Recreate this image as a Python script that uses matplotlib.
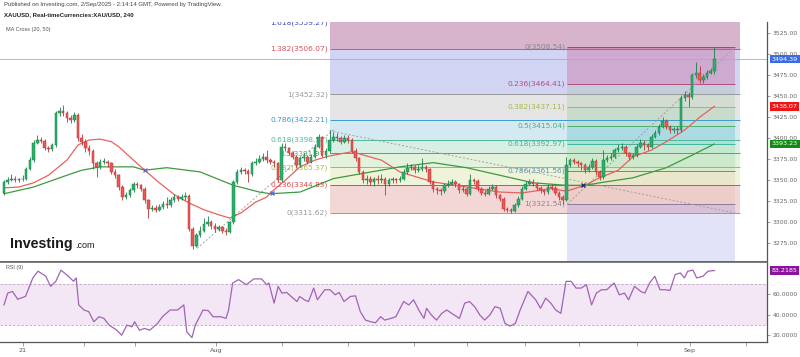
import matplotlib
matplotlib.use("Agg")
import matplotlib.pyplot as plt
import matplotlib.transforms as mtransforms
import numpy as np

# ---- candles (4H XAU/USD) ----
first_open = 3335
closes = [3348, 3350, 3352, 3350, 3351, 3352, 3364, 3374, 3395, 3398,
          3397, 3388, 3387, 3392, 3430, 3432, 3430, 3424, 3422, 3428,
          3400, 3396, 3388, 3385, 3370, 3366, 3372, 3372, 3370, 3360,
          3356, 3342, 3330, 3332, 3338, 3345, 3344, 3340, 3326, 3316,
          3317, 3315, 3318, 3322, 3320, 3326, 3330, 3328, 3330, 3331,
          3292, 3272, 3285, 3290, 3298, 3300, 3296, 3292, 3294, 3290,
          3289, 3300, 3348, 3360, 3362, 3361, 3357, 3370, 3372, 3375,
          3378, 3374, 3372, 3370, 3350, 3390, 3388, 3383, 3378, 3368,
          3376, 3378, 3372, 3378, 3390, 3401, 3380, 3385, 3398, 3402,
          3400, 3396, 3400, 3398, 3385, 3376, 3360, 3350, 3352, 3348,
          3351, 3350, 3352, 3346, 3350, 3351, 3350, 3352, 3360, 3365,
          3366, 3362, 3364, 3366, 3363, 3348, 3340, 3338, 3337, 3344,
          3346, 3348, 3345, 3338, 3340, 3334, 3350, 3349, 3340, 3335,
          3334, 3340, 3342, 3332, 3328, 3316, 3315, 3314, 3320, 3328,
          3340, 3346, 3348, 3346, 3341, 3338, 3336, 3342, 3341, 3335,
          3330, 3327, 3368, 3374, 3372, 3370, 3368, 3362, 3366, 3373,
          3360, 3354, 3374, 3376, 3378, 3386, 3389, 3390, 3382, 3378,
          3380, 3390, 3395, 3392, 3390, 3402, 3406, 3414, 3421, 3414,
          3410, 3411, 3410, 3448, 3452, 3449, 3475, 3478, 3469, 3473,
          3478, 3480, 3494.39]
highs = [3350, 3354, 3358, 3355, 3353, 3356, 3366, 3378, 3398, 3404,
         3402, 3399, 3391, 3395, 3433, 3437, 3440, 3432, 3428, 3431,
         3430, 3405, 3399, 3392, 3387, 3373, 3375, 3376, 3374, 3372,
         3363, 3358, 3344, 3336, 3341, 3348, 3348, 3346, 3342, 3328,
         3321, 3320, 3322, 3325, 3330, 3330, 3334, 3333, 3334, 3336,
         3334, 3294, 3287, 3295, 3305, 3307, 3303, 3299, 3297, 3296,
         3293, 3302, 3350, 3364, 3366, 3365, 3363, 3373, 3376, 3380,
         3382, 3386, 3377, 3374, 3372, 3394, 3394, 3390, 3385, 3380,
         3379, 3382, 3380, 3381, 3393, 3405, 3403, 3388, 3410, 3408,
         3406, 3403, 3404, 3404, 3400, 3388, 3378, 3362, 3356, 3355,
         3354, 3356, 3358, 3354, 3353, 3354, 3353, 3355, 3363, 3370,
         3369, 3368, 3368, 3377, 3368, 3365, 3350, 3342, 3341, 3347,
         3350, 3352, 3350, 3347, 3343, 3342, 3357, 3353, 3351, 3342,
         3338, 3343, 3345, 3344, 3334, 3330, 3318, 3317, 3323, 3331,
         3343, 3349, 3352, 3352, 3348, 3343, 3340, 3345, 3345, 3343,
         3337, 3332, 3378, 3377, 3376, 3374, 3372, 3370, 3369, 3376,
         3375, 3362, 3386, 3380, 3382, 3389, 3393, 3395, 3392, 3384,
         3383, 3393, 3399, 3398, 3394, 3405, 3410, 3417, 3425, 3423,
         3416, 3414, 3415, 3452, 3456, 3455, 3478, 3491, 3486, 3477,
         3481, 3484, 3508.54]
lows = [3333, 3346, 3349, 3348, 3348, 3349, 3350, 3362, 3372, 3393,
        3394, 3386, 3384, 3385, 3390, 3427, 3426, 3420, 3418, 3420,
        3397, 3392, 3384, 3380, 3364, 3354, 3364, 3369, 3366, 3357,
        3353, 3339, 3327, 3328, 3330, 3336, 3341, 3337, 3323, 3305,
        3313, 3312, 3313, 3316, 3317, 3318, 3324, 3325, 3326, 3327,
        3290, 3268, 3270, 3282, 3288, 3295, 3292, 3289, 3290, 3287,
        3285, 3287, 3298, 3346, 3358, 3357, 3348, 3355, 3368, 3370,
        3373, 3371, 3369, 3366, 3348, 3348, 3385, 3380, 3375, 3365,
        3366, 3373, 3369, 3370, 3376, 3388, 3378, 3377, 3383, 3396,
        3397, 3393, 3394, 3395, 3382, 3373, 3357, 3347, 3346, 3344,
        3343, 3346, 3347, 3333, 3343, 3347, 3347, 3348, 3350, 3358,
        3362, 3359, 3360, 3361, 3360, 3345, 3336, 3334, 3333, 3335,
        3342, 3344, 3342, 3335, 3336, 3331, 3332, 3346, 3337, 3332,
        3331, 3332, 3338, 3329, 3325, 3313, 3312, 3311.62, 3312, 3318,
        3326, 3338, 3344, 3343, 3338, 3335, 3333, 3334, 3338, 3332,
        3327, 3321.54, 3325, 3366, 3369, 3366, 3362, 3359, 3360, 3364,
        3356, 3350, 3352, 3372, 3374, 3376, 3384, 3386, 3379, 3374,
        3375, 3378, 3388, 3386, 3386, 3388, 3400, 3404, 3412, 3411,
        3406, 3406, 3405, 3408, 3444, 3437, 3447, 3472, 3466, 3466,
        3471, 3476, 3477]
opens = [first_open] + closes[:-1]

# ---- moving averages (bar position, value) ----
ma20_bar = [0, 4, 8, 12, 17, 20, 23, 26, 29, 31, 35, 38, 42, 46, 50, 54, 58, 61,
            64, 68, 71, 72, 76, 80, 84, 88, 94, 102, 107, 116, 125, 134, 140, 148,
            152, 157, 161, 166, 170, 175, 179, 184, 188, 192]
ma20_val = [3341, 3342, 3347, 3356, 3374, 3392, 3398, 3399, 3396, 3390, 3374, 3362,
            3347, 3333, 3323, 3315, 3309, 3305, 3311, 3324, 3330, 3335, 3350, 3366,
            3374, 3379, 3384, 3374, 3360, 3348, 3342, 3336, 3335, 3340, 3337, 3344,
            3353, 3362, 3378, 3386, 3396, 3410, 3425, 3438.07]
ma50_bar = [0, 8, 17, 21, 26, 35, 38, 44, 53, 62, 69, 72, 80, 89, 98, 107, 116,
            125, 134, 143, 152, 157, 161, 170, 179, 186, 192]
ma50_val = [3334, 3342, 3356, 3362, 3366, 3366, 3362, 3365, 3360, 3344, 3336, 3334,
            3336, 3352, 3359, 3366, 3371, 3365, 3356, 3347, 3344, 3344, 3347, 3353,
            3365, 3380, 3393.23]
cross_bar = [38, 72.4, 156.5]
cross_val = [3362, 3334.5, 3344]
cross_col = ['#7a5cc8', '#3a6ee8', '#1a2a6a']

# ---- RSI (9) ----
rsi_bar = [0, 1.0, 2.3, 3.7, 5.8, 7.8, 9.2, 11.3, 12.6, 14.0, 15.4, 17.4, 18.8, 19.5,
           20.2, 21.6, 22.9, 24.3, 25.7, 27.0, 28.4, 30.5, 31.8, 33.2, 34.6, 35.3,
           36.6, 38.0, 39.4, 41.5, 42.8, 44.9, 46.9, 48.6, 49.4, 50.8, 51.7, 53.8,
           55.2, 56.5, 58.6, 60.0, 60.7, 61.8, 63.4, 65.5, 67.5, 69.6, 71.0, 71.6,
           73.0, 74.1, 75.1, 76.4, 77.8, 79.2, 79.9, 81.2, 82.3, 83.7, 84.7, 86.7,
           88.1, 89.5, 90.6, 91.9, 93.6, 95.0, 96.3, 97.7, 99.1, 100.4, 101.8, 102.9,
           104.6, 105.9, 108.0, 109.4, 110.7, 112.1, 113.5, 114.2, 115.5, 116.9,
           118.3, 119.7, 121.0, 123.1, 124.5, 125.8, 127.2, 128.6, 129.9, 131.3,
           132.7, 134.1, 135.4, 136.8, 138.2, 139.5, 141.6, 143.7, 145.0, 146.4,
           147.8, 149.1, 150.5, 151.9, 153.3, 154.6, 156.0, 157.4, 158.8, 160.1,
           161.5, 162.9, 164.9, 166.3, 167.7, 168.8, 170.4, 172.1, 173.2, 174.5,
           175.9, 177.3, 178.7, 180.0, 181.4, 182.8, 183.9, 184.8, 186.2, 187.2,
           188.9, 190.3, 192]
rsi_val = [49.5, 61.1, 62.7, 55.1, 57.8, 76.0, 82.6, 77.6, 67.7, 72.6, 83.6, 77.6,
           72.6, 76.0, 49.5, 44.5, 42.9, 33.0, 37.9, 36.3, 29.7, 24.7, 19.7, 29.7,
           28.0, 33.0, 24.7, 26.4, 24.7, 31.3, 37.9, 44.5, 44.5, 49.5, 23.1, 17.4,
           29.7, 44.5, 43.9, 37.9, 37.9, 36.3, 44.5, 71.0, 74.3, 69.3, 75.0, 75.0,
           69.3, 71.0, 51.2, 67.7, 61.1, 61.7, 57.1, 52.8, 57.8, 54.5, 52.8, 66.0,
           54.5, 64.4, 64.4, 59.4, 61.7, 52.8, 57.8, 58.4, 42.9, 34.6, 33.0, 32.0,
           37.9, 34.6, 36.3, 37.9, 52.8, 49.5, 54.5, 44.5, 36.3, 46.2, 39.6, 34.6,
           41.2, 44.5, 41.2, 36.3, 51.2, 52.8, 47.8, 39.6, 34.6, 39.6, 47.8, 46.2,
           31.3, 28.7, 31.3, 44.5, 62.7, 54.5, 46.2, 56.1, 51.2, 44.5, 41.2, 72.6,
           72.6, 66.0, 66.0, 69.3, 49.5, 61.1, 64.4, 64.4, 71.0, 59.4, 61.1, 54.5,
           67.7, 62.7, 61.1, 71.0, 77.6, 64.4, 64.4, 63.7, 79.3, 80.9, 76.0, 82.6,
           83.6, 76.0, 77.6, 82.6, 83.2185]

# ---- Fibonacci retracements ----
fib1_levels = ['0', '0.236', '0.382', '0.5', '0.618', '0.786', '1', '1.382', '1.618']
fib1_prices = [3311.62, 3344.83, 3365.37, 3381.97, 3398.57, 3422.21, 3452.32, 3506.07, 3559.27]
fib1_span = (88.1, 198.9)
fib2_levels = ['0', '0.236', '0.382', '0.5', '0.618', '0.786', '1', '1.618']
fib2_prices = [3508.54, 3464.41, 3437.11, 3415.04, 3392.97, 3361.56, 3321.54, 3205.97]
fib2_span = (152.2, 197.6)

tick_pos = [5.1, 21.6, 35.4, 57.3, 75.1, 93, 110.8, 125.1, 140.8, 155.4, 171.1, 185.4, 200.5]
tick_lab = ['21', '', '', 'Aug', '', '', '', '', '', '', '', 'Sep', '']

# ---- figure ----
fig = plt.figure(figsize=(8, 3.57), dpi=100)
W, H = 800, 357
ax = fig.add_axes([0, 1 - 262 / H, 767 / W, 240 / H])
ax2 = fig.add_axes([0, 1 - 342 / H, 767 / W, 80 / H], sharex=ax)

xlim = (-4 / 3.7, 763 / 3.7)
ax.set_xlim(*xlim)
ax.set_ylim(3252.7, 3538.5)
ax2.set_ylim(13.1, 91.6)

# left fib fills / lines / labels
fib1_fill = ['#f3d6d6', '#eff3da', '#e2f2dc', '#d7efe5', '#d5e9f3', '#e5e5e5', '#d1d4f3', '#d7b3cc']
fib1_line = ['#9a9a9a', '#e04848', '#a8b84a', '#4caf50', '#4fb89a', '#3d9ad1', '#9a9a9a', '#e05060', '#4a4ab8']
for k in range(len(fib1_prices) - 1):
    ax.fill_between(fib1_span, fib1_prices[k], fib1_prices[k + 1], color=fib1_fill[k], lw=0, zorder=0.1)
for k, p in enumerate(fib1_prices):
    ax.hlines(p, *fib1_span, color=fib1_line[k], lw=0.7, zorder=0.5)
    ty = p if k < 8 else 3537.5
    ax.text(fib1_span[0] - 0.5, ty, f'{fib1_levels[k]}({p:.2f})', color=fib1_line[k],
            ha='right', va='center', fontsize=5.4, zorder=1, clip_on=True)

# right fib (overlay)
fib2_fill = [('#c83c78', 0.28), ('#8fbf8a', 0.22), ('#4caf50', 0.18), ('#08a0a0', 0.2),
             ('#7cc98a', 0.2), ('#c8a078', 0.15), ('#7070e0', 0.2)]
fib2_line = ['#b04060', '#b84a80', '#a8b850', '#4caf72', '#3fb5a0', '#5a8fa8', '#8a7aa0', '#6060c0']
fib2_text = ['#8a8a8a', '#b84a80', '#a8b850', '#4caf72', '#3fb5a0', '#5a98a8', '#8a8a8a', '#6060c0']
for k in range(len(fib2_prices) - 1):
    c, a = fib2_fill[k]
    ax.fill_between(fib2_span, fib2_prices[k], fib2_prices[k + 1], color=c, alpha=a, lw=0, zorder=0.2)
for k, p in enumerate(fib2_prices[:-1]):
    ax.hlines(p, *fib2_span, color=fib2_line[k], lw=0.7, zorder=0.6)
    ax.text(fib2_span[0] - 0.5, p, f'{fib2_levels[k]}({p:.2f})', color=fib2_text[k],
            ha='right', va='center', fontsize=5.4, zorder=1)

# dotted trend lines
ax.plot([52.2, 89.5], [3269, 3412], ls=(0, (2, 2)), color='#a0a0a0', lw=0.7, zorder=1.2)
ax.plot([88, 197.6], [3409, 3311], ls=(0, (2, 2)), color='#a0a0a0', lw=0.7, zorder=1.2)
ax.plot([152.2, 197.6], [3321.54, 3508.54], ls=(0, (2, 2)), color='#a0a0a0', lw=0.7, zorder=1.2)

# last price line
ax.axhline(closes[-1], color='#8fb0ee', lw=0.6, zorder=1.3)

# moving averages
ax.plot(ma20_bar, ma20_val, color='#e8625e', lw=0.9, zorder=3)
ax.plot(ma50_bar, ma50_val, color='#3e9a3e', lw=0.9, zorder=3)
for b, v, c in zip(cross_bar, cross_val, cross_col):
    ax.plot(b, v, marker='x', ms=2.5, mew=0.9, color=c, zorder=3.5)

# candles
x = np.arange(len(closes))
o = np.array(opens, dtype=float)
c = np.array(closes, dtype=float)
up = c >= o
body_col = np.where(up, '#2bb06a', '#ee5652')
edge_col = np.where(up, '#16804a', '#b83636')
ax.vlines(x, lows, highs, colors=edge_col, lw=0.6, zorder=4)
ax.bar(x, np.maximum(np.abs(c - o), 0.4), bottom=np.minimum(o, c), width=0.68,
       color=body_col, edgecolor=edge_col, linewidth=0.35, zorder=4.5)

# axes styling
for a in (ax, ax2):
    for s in ('left', 'top'):
        a.spines[s].set_visible(False)
    a.spines['right'].set_color('#555555')
    a.spines['right'].set_linewidth(0.9)
    a.yaxis.tick_right()
    a.tick_params(axis='y', length=2.5, width=0.5, color='#777777', labelsize=4.4,
                  labelcolor='#666666', pad=1.5)
ax.spines['bottom'].set_color('#666666')
ax.spines['bottom'].set_linewidth(1.2)
ax2.spines['top'].set_visible(True)
ax2.spines['top'].set_color('#666666')
ax2.spines['top'].set_linewidth(1.2)
ax2.spines['bottom'].set_color('#555555')
ax2.spines['bottom'].set_linewidth(0.9)

ax.set_yticks(np.arange(3275, 3526, 25))
ax.set_yticklabels([f'{v:.2f}' for v in np.arange(3275, 3526, 25)])
ax.tick_params(axis='x', bottom=False, labelbottom=False)

ax2.set_yticks([20, 40, 60])
ax2.set_yticklabels(['20.0000', '40.0000', '60.0000'])
ax2.set_xticks(tick_pos)
ax2.set_xticklabels(tick_lab)
ax2.tick_params(axis='x', length=3, width=0.5, color='#777777', labelsize=4.6,
                labelcolor='#555555', pad=1.5)

# RSI pane
ax2.axhspan(30, 70, color='#f3e7f5', lw=0, zorder=0)
ax2.axhline(70, color='#b9a6c2', lw=0.6, ls=(0, (3, 2)), zorder=0.5)
ax2.axhline(30, color='#b9a6c2', lw=0.6, ls=(0, (3, 2)), zorder=0.5)
ax2.plot(rsi_bar, rsi_val, color='#a163b5', lw=0.9, zorder=2)

# right-side value tags
tr = mtransforms.blended_transform_factory(ax.transAxes, ax.transData)
tr2 = mtransforms.blended_transform_factory(ax2.transAxes, ax2.transData)
tags = [(ax, tr, closes[-1], '3494.39', '#3a6de4'),
        (ax, tr, ma20_val[-1], '3438.07', '#f01414'),
        (ax, tr, ma50_val[-1], '3393.23', '#138a13'),
        (ax2, tr2, rsi_val[-1], '83.2185', '#8c139c')]
for a, t, v, s, col in tags:
    a.text(1.006, v, s, transform=t, ha='left', va='center', fontsize=4.6, color='white',
           clip_on=False, zorder=10,
           bbox=dict(boxstyle='square,pad=0.3', fc=col, ec='none'))

# header and captions
fig.text(4 / W, 1 - 4.5 / H, 'Published on Investing.com, 2/Sep/2025 - 2:14:14 GMT, Powered by TradingView.',
         fontsize=4.3, color='#444444', va='center', family='Liberation Sans')
fig.text(4 / W, 1 - 14.5 / H, 'XAUUSD, Real-timeCurrencies:XAU/USD, 240',
         fontsize=4.35, color='#222222', va='center', weight='bold', family='Liberation Sans')
fig.text(6 / W, 1 - 30 / H, 'MA Cross (20, 50)', fontsize=4.0, color='#555555', va='center',
         family='Liberation Sans')
fig.text(6 / W, 1 - 268 / H, 'RSI (9)', fontsize=3.9, color='#555555', va='center',
         family='Liberation Sans')
fig.text(10 / W, 1 - 244 / H, 'Investing', fontsize=10.3, weight='bold', color='#1a1a1a',
         va='center', family='Liberation Sans')
fig.text(75 / W, 1 - 246 / H, '.com', fontsize=6.5, color='#1a1a1a', va='center',
         family='Liberation Sans')

fig.savefig('out.png', dpi=100)
